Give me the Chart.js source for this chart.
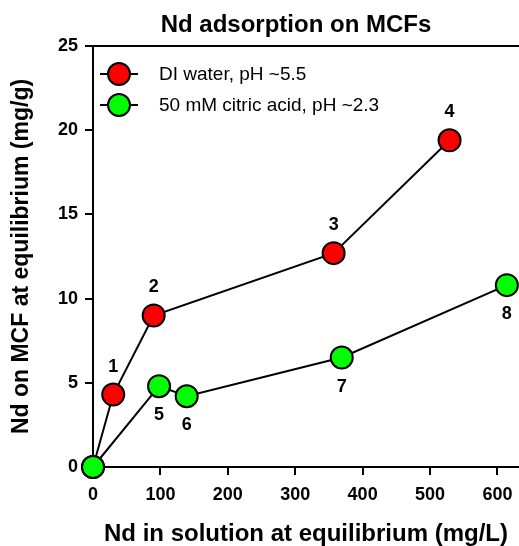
<!DOCTYPE html>
<html lang="en">
<head>
    <meta charset="utf-8" />
    <title>Nd adsorption on MCFs</title>
    <script src="https://cdn.jsdelivr.net/npm/chart.js"></script>
    <style>
        html, body { margin: 0; padding: 0; background: #ffffff; }
        .grafico_container { width: 519px; height: 546px; }
    </style>
</head>
<body>
    <div class="grafico_container">
        <canvas id="grafico_nd"></canvas>
    </div>
<script>
    // Dados
    const xDI = [0, 30, 90, 357, 529];
    const yDI = [0, 4.3, 9.0, 12.7, 19.4];
    const rotulosDI = ["", "1", "2", "3", "4"];

    const xCitrico = [0, 98, 139, 369, 614];
    const yCitrico = [0, 4.8, 4.2, 6.5, 10.8];
    const rotulosCitrico = ["", "5", "6", "7", "8"];

    const ticksX = [0, 100, 200, 300, 400, 500, 600];
    const ticksY = [0, 5, 10, 15, 20, 25];

    const nomesSeries = ["DI water, pH ~5.5", "50 mM citric acid, pH ~2.3"];
    const coresSeries = ["#ff0000", "#00ff00"];

    const titulo = "Nd adsorption on MCFs";
    const tituloX = "Nd in solution at equilibrium (mg/L)";
    const tituloY = "Nd on MCF at equilibrium (mg/g)";

    const pontos = (xs, ys) => xs.map((x, i) => ({ x: x, y: ys[i] }));

    // Plugin para título, legenda, moldura superior e números dos pontos
    const extras = {
        id: "extras",
        afterDraw(chart) {
            const ctx = chart.ctx;
            const area = chart.chartArea;
            ctx.save();

            // linha superior
            ctx.strokeStyle = "#000";
            ctx.lineWidth = 2;
            ctx.beginPath();
            ctx.moveTo(area.left, area.top);
            ctx.lineTo(area.right, area.top);
            ctx.stroke();

            // título
            ctx.fillStyle = "#000";
            ctx.font = "bold 24px Arial, 'Liberation Sans', sans-serif";
            ctx.textAlign = "center";
            ctx.textBaseline = "middle";
            ctx.fillText(titulo, 296, 25);

            // números dos pontos
            ctx.font = "bold 18px Arial, 'Liberation Sans', sans-serif";
            const desenharRotulos = (indice, rotulos, dy) => {
                chart.getDatasetMeta(indice).data.forEach((p, i) => {
                    if (rotulos[i]) ctx.fillText(rotulos[i], p.x, p.y + dy);
                });
            };
            desenharRotulos(0, rotulosDI, -28);
            desenharRotulos(1, rotulosCitrico, 29);

            // legenda
            ctx.font = "19px Arial, 'Liberation Sans', sans-serif";
            ctx.textAlign = "left";
            nomesSeries.forEach((nome, i) => {
                const y = 74 + i * 31;
                ctx.strokeStyle = "#000";
                ctx.lineWidth = 2;
                ctx.beginPath();
                ctx.moveTo(100, y);
                ctx.lineTo(138, y);
                ctx.stroke();
                ctx.beginPath();
                ctx.arc(119, y, 11, 0, Math.PI * 2);
                ctx.fillStyle = coresSeries[i];
                ctx.fill();
                ctx.stroke();
                ctx.fillStyle = "#000";
                ctx.fillText(nome, 159, y + 1);
            });

            ctx.restore();
        }
    };

    const fonteTicks = { family: "Arial, 'Liberation Sans', sans-serif", size: 18, weight: "bold" };
    const fonteTitulos = { family: "Arial, 'Liberation Sans', sans-serif", size: 24, weight: "bold", lineHeight: 1 };

    const estiloSerie = (cor) => ({
        showLine: true,
        borderColor: "#000",
        borderWidth: 2,
        backgroundColor: cor,
        pointBackgroundColor: cor,
        pointBorderColor: "#000",
        pointBorderWidth: 2,
        pointRadius: 11,
        pointHoverRadius: 11,
        clip: false
    });

    // sem folga lateral: a área do gráfico vai até a borda direita
    const semFolga = (s) => { s.paddingLeft = 0; s.paddingRight = 0; s.paddingTop = 0; s.paddingBottom = 0; };

    new Chart(document.getElementById("grafico_nd"), {
        type: "scatter",
        data: {
            datasets: [
                Object.assign({ label: nomesSeries[0], data: pontos(xDI, yDI), order: 1 }, estiloSerie(coresSeries[0])),
                Object.assign({ label: nomesSeries[1], data: pontos(xCitrico, yCitrico), order: 0 }, estiloSerie(coresSeries[1]))
            ]
        },
        options: {
            responsive: true,
            maintainAspectRatio: false,
            animation: false,
            layout: { autoPadding: false, padding: { top: 46, right: 0, left: 0, bottom: 0 } },
            plugins: {
                legend: { display: false },
                title: { display: false },
                tooltip: { enabled: false }
            },
            scales: {
                x: {
                    type: "linear",
                    min: 0,
                    max: 632,
                    afterFit: (s) => { s.height = 79; semFolga(s); },
                    afterBuildTicks: (s) => { s.ticks = ticksX.map((v) => ({ value: v })); },
                    ticks: { color: "#000", font: fonteTicks, padding: 9, maxRotation: 0, autoSkip: false },
                    grid: { drawOnChartArea: false, drawTicks: true, tickLength: 8, color: "#000", lineWidth: 2 },
                    border: { display: true, color: "#000", width: 2 },
                    title: { display: true, text: tituloX, color: "#000", font: fonteTitulos, padding: { top: 0, bottom: 0 } }
                },
                y: {
                    type: "linear",
                    min: 0,
                    max: 25,
                    afterFit: (s) => { s.width = 93; semFolga(s); },
                    afterBuildTicks: (s) => { s.ticks = ticksY.map((v) => ({ value: v })); },
                    ticks: { color: "#000", font: fonteTicks, padding: 7, autoSkip: false },
                    grid: { drawOnChartArea: false, drawTicks: true, tickLength: 8, color: "#000", lineWidth: 2 },
                    border: { display: true, color: "#000", width: 2 },
                    title: { display: true, text: tituloY, color: "#000", font: { family: fonteTitulos.family, size: 23, weight: "bold", lineHeight: 1 }, padding: { top: 10, bottom: 0 } }
                }
            }
        },
        plugins: [extras]
    });
</script>
</body>
</html>
